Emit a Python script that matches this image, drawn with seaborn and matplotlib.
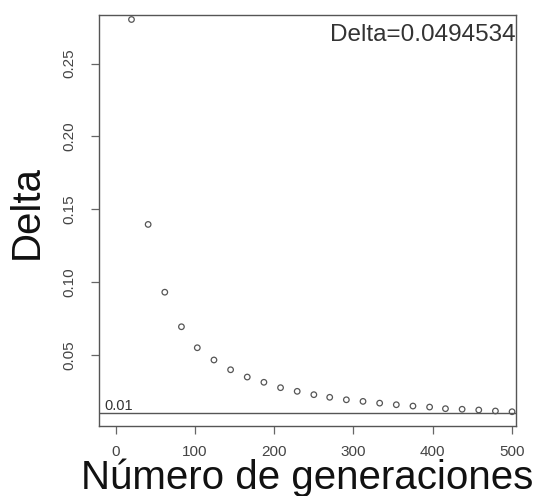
import numpy as np
import pandas as pd
import matplotlib
matplotlib.use("Agg")
import matplotlib.pyplot as plt
import seaborn as sns

# generations (x) and delta values
generaciones = [20, 41, 62, 83, 103, 124, 145, 166, 187, 208, 229, 250,
                270, 291, 312, 333, 354, 375, 396, 416, 437, 458, 479, 500]
delta = [0.2802, 0.1396, 0.0931, 0.0694, 0.0550, 0.0466, 0.0399, 0.0349,
         0.0313, 0.0276, 0.0251, 0.0228, 0.0210, 0.0193, 0.0182, 0.0170,
         0.0159, 0.0150, 0.0143, 0.0132, 0.0128, 0.0123, 0.0116, 0.0111]
umbral = 0.01
delta_final = "Delta=0.0494534"
x_ticks = [0, 100, 200, 300, 400, 500]
y_ticks = [0.05, 0.10, 0.15, 0.20, 0.25]

df = pd.DataFrame({"gen": generaciones, "delta": delta})

sns.set_style("white")
plt.rcParams["font.family"] = ["Liberation Sans", "DejaVu Sans"]

fig = plt.figure(figsize=(5.4, 4.96), dpi=100)
ax = fig.add_axes([0.1833, 0.1411, 0.7723, 0.8287])

sns.scatterplot(data=df, x="gen", y="delta", ax=ax, marker="o", s=16,
                facecolors="none", edgecolors="#555555", linewidth=0.9)

ax.axhline(umbral, color="#555555", lw=1.0)
ax.text(0.014, umbral + 0.0005, "0.01", transform=ax.get_yaxis_transform(),
        fontsize=10.5, color="#333333", va="bottom", ha="left")
ax.text(1.0, 0.951, delta_final, transform=ax.transAxes, ha="right", va="center",
        fontsize=17.5, color="#333333")

ax.set_xlim(-21, 505)
ax.set_ylim(0.0013, 0.2833)
ax.set_xticks(x_ticks)
ax.set_yticks(y_ticks)
ax.set_xticklabels([str(t) for t in x_ticks])
ax.set_yticklabels(["%.2f" % t for t in y_ticks])
plt.setp(ax.get_yticklabels(), rotation=90, va="center")

ax.tick_params(axis="both", direction="out", length=6, width=0.9, color="#666666",
               labelsize=11, labelcolor="#444444", bottom=True, left=True)
ax.tick_params(axis="x", pad=8)
ax.tick_params(axis="y", pad=10)

for s in ax.spines.values():
    s.set_color("#555555")
    s.set_linewidth(1.0)

ax.set_xlabel("Número de generaciones", fontsize=29, color="#111111", labelpad=-1)
ax.set_ylabel("Delta", fontsize=29, color="#111111")
ax.yaxis.set_label_coords(-0.127, 0.52)

fig.savefig("out.png", dpi=100)
